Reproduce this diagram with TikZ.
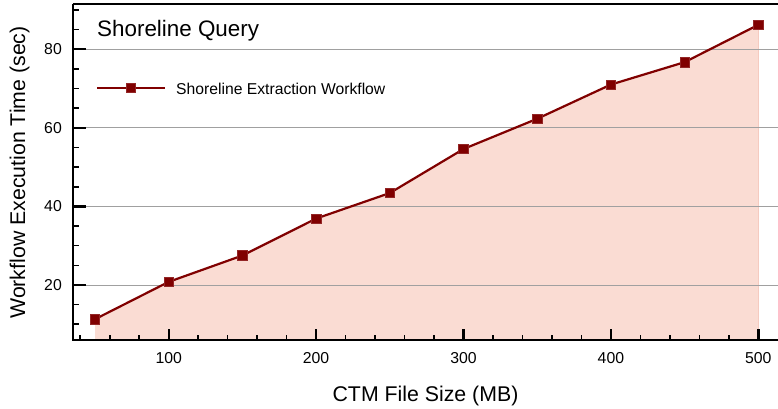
\documentclass[tikz,border=0pt]{standalone}
\usepackage{fontspec}
\setmainfont{Liberation Sans}
\definecolor{dred}{HTML}{800000}
\definecolor{fillc}{HTML}{FADCD3}
\definecolor{filledge}{HTML}{F5CBC0}
\definecolor{gridc}{HTML}{A0A0A0}
\tikzset{
  marker/.style={rectangle, fill=dred, draw=dred!85!white, line width=0.6pt, minimum size=9.5pt, inner sep=0pt},
  dline/.style={draw=dred, line width=2.2pt, line join=round},
  axisline/.style={line width=2.4pt},
  majtick/.style={line width=2.4pt},
  mintick/.style={line width=1.6pt},
  gridline/.style={draw=gridc, line width=0.9pt},
  ticklab/.style={font=\fontsize{15.8}{18}\selectfont, inner sep=0pt},
  axlab/.style={font=\fontsize{21.3}{25}\selectfont, inner sep=0pt},
}
\begin{document}
\begin{tikzpicture}[x=1pt,y=1pt]
\useasboundingbox (0,0) rectangle (778,409);
\fill[white] (0,0) rectangle (778,409);
\begin{scope}[shift={(21.3pt,45.4pt)}, x=1.474pt, y=3.93pt]
  \coordinate (p1) at (50,11.3);
  \coordinate (p2) at (100,20.8);
  \coordinate (p3) at (150,27.5);
  \coordinate (p4) at (200,36.9);
  \coordinate (p5) at (250,43.4);
  \coordinate (p6) at (300,54.6);
  \coordinate (p7) at (350,62.3);
  \coordinate (p8) at (400,71.0);
  \coordinate (p9) at (450,76.7);
  \coordinate (p10) at (500,86.2);
  \coordinate (b1) at (50,6.0);
  \coordinate (b10) at (500,6.0);
  % fill
  \fill[fillc] (b1) -- (p1) -- (p2) -- (p3) -- (p4) -- (p5) -- (p6) -- (p7) -- (p8) -- (p9) -- (p10) -- (b10) -- cycle;
  \draw[filledge, line width=1pt] (p10) -- (b10);
  % grid
  \foreach \v in {20,40,60,80} \draw[gridline] (35.07,\v) -- (513.4,\v);
  % data line
  \draw[dline] (p1) -- (p2) -- (p3) -- (p4) -- (p5) -- (p6) -- (p7) -- (p8) -- (p9) -- (p10);
  \foreach \i in {1,...,10} \node[marker] (m\i) at (p\i) {};
  % axes
  \coordinate (o) at (35.07,6.0);
  \coordinate (xe) at (513.4,6.0);
  \coordinate (yt) at (35.07,91.5);
  \coordinate (te) at (513.4,91.5);
  \draw[axisline] (xe) -- (o) -- (yt);
  \draw[line width=2.2pt] (yt) -- (te);
  % x ticks
  \foreach \v in {100,200,300,400,500} {
    \draw[majtick] (\v,6.0) -- ++(0pt,11pt);
    \node[ticklab, anchor=base] (xl\v) at ([yshift=-23.5pt]\v,6.0) {\v};
  }
  \foreach \v in {40,60,80,120,140,160,180,220,240,260,280,320,340,360,380,420,440,460,480}
    \draw[mintick] (\v,6.0) -- ++(0pt,5.5pt);
  % y ticks
  \foreach \v in {20,40,60,80} {
    \draw[majtick] (35.07,\v) -- ++(13pt,0pt);
    \node[ticklab, anchor=east] (yl\v) at ([xshift=-11pt]35.07,\v) {\v};
  }
  \foreach \v in {10,15,25,30,35,45,50,55,65,70,75,85,90}
    \draw[mintick] (35.07,\v) -- ++(6pt,0pt);
\end{scope}
% title
\node[anchor=base west, inner sep=0pt, font=\fontsize{22.4}{26}\selectfont] (title) at (97,372.3) {Shoreline Query};
% legend
\coordinate (la) at (97,321.3);
\coordinate (lb) at (165,321.3);
\draw[dline] (la) -- (lb);
\node[marker] (lm) at (131,321.3) {};
\node[anchor=base west, inner sep=0pt, font=\fontsize{15.7}{19}\selectfont] (legtext) at (176,314) {Shoreline Extraction Workflow};
% axis labels
\node[axlab, anchor=base] (xlabel) at (425.5,7.5) {CTM File Size (MB)};
\node[axlab, anchor=base, rotate=90] (ylabel) at (25,236.5) {Workflow Execution Time (sec)};
\end{tikzpicture}
\end{document}
